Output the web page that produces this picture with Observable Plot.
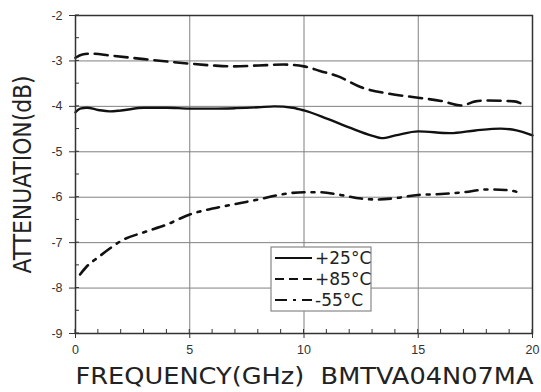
<!DOCTYPE html>
<html><head><meta charset="utf-8">
<script src="https://cdn.jsdelivr.net/npm/d3@7"></script>
<script src="https://cdn.jsdelivr.net/npm/@observablehq/plot@0.6"></script>
<style>body{margin:0;background:#fff}</style></head>
<body><div id="chart"></div>
<script>
const xTicks = [0, 5, 10, 15, 20];
const yTicks = [-9, -8, -7, -6, -5, -4, -3, -2];
const xMinor = d3.range(0, 21, 1);
const yMinor = d3.range(-9, -1.9, 0.5);

const freq25 = [0, 0.2, 0.5, 1, 1.5, 2, 3, 4, 5, 6, 7, 8, 8.7, 9.5, 10, 11, 12, 13, 13.4, 14, 15, 16.4, 17.5, 18.6, 19.3, 20];
const att25  = [-4.13, -4.05, -4.03, -4.08, -4.11, -4.09, -4.03, -4.03, -4.05, -4.05, -4.04, -4.02, -4.00, -4.03, -4.09, -4.27, -4.47, -4.65, -4.70, -4.64, -4.55, -4.59, -4.53, -4.49, -4.53, -4.64];

const freq85 = [0, 0.3, 0.7, 1.5, 3, 5, 6, 6.9, 8, 9.1, 10, 10.7, 11.5, 12.5, 13.7, 15, 16, 16.9, 17.5, 18, 19.2, 19.6];
const att85  = [-2.93, -2.86, -2.84, -2.88, -2.96, -3.06, -3.10, -3.12, -3.10, -3.08, -3.12, -3.22, -3.34, -3.58, -3.72, -3.81, -3.88, -3.98, -3.89, -3.87, -3.89, -3.96];

const freqM = [0.2, 0.5, 1, 1.5, 2, 3, 4, 5, 6, 7, 8, 9, 10, 10.7, 11.6, 12.5, 13.2, 14, 15, 16, 17, 18, 18.8, 19.4];
const attM  = [-7.70, -7.52, -7.32, -7.13, -6.96, -6.77, -6.60, -6.38, -6.25, -6.15, -6.05, -5.94, -5.89, -5.89, -5.95, -6.03, -6.05, -6.02, -5.95, -5.93, -5.89, -5.83, -5.84, -5.89];

const seriesNames = ["+25°C", "+85°C", "-55°C"];
const dashes = [null, "13,7", "12,7,3,7"];
const legendDashes = [null, "9,5", "12,6,3,6"];
const xLabel = "FREQUENCY(GHz)  BMTVA04N07MA";
const yLabel = "ATTENUATION(dB)";

const toRows = (fs, vs) => fs.map((f, i) => ({f, v: vs[i]}));
const d25 = toRows(freq25, att25), d85 = toRows(freq85, att85), dM = toRows(freqM, attM);

const chart = Plot.plot({
  width: 541, height: 392,
  marginLeft: 75, marginRight: 9, marginTop: 15, marginBottom: 59,
  style: {fontFamily: "Liberation Sans, Arial, sans-serif", background: "#fff", color: "#333"},
  x: {domain: [0, 20]},
  y: {domain: [-9, -2]},
  marks: [
    Plot.gridX(xTicks, {stroke: "#808080", strokeOpacity: 1, strokeWidth: 1}),
    Plot.gridY(yTicks, {stroke: "#808080", strokeOpacity: 1, strokeWidth: 1}),
    Plot.axisX(xTicks, {tickSize: 5, tickPadding: 7, fontSize: 12.5, label: null, tickFormat: d => String(d), stroke: "#333"}),
    Plot.axisY(yTicks, {tickSize: 6, tickPadding: 7, fontSize: 12.5, label: null, tickFormat: d => String(d), stroke: "#333"}),
    Plot.line(d25, {x: "f", y: "v", stroke: "#111", strokeWidth: 2.4, curve: "monotone-x"}),
    Plot.line(d85, {x: "f", y: "v", stroke: "#111", strokeWidth: 2.6, strokeDasharray: dashes[1], curve: "monotone-x"}),
    Plot.line(dM, {x: "f", y: "v", stroke: "#111", strokeWidth: 2.6, strokeDasharray: dashes[2], curve: "monotone-x"}),
    Plot.frame({stroke: "#333", strokeWidth: 1.5}),
    Plot.text([xLabel], {frameAnchor: "bottom-left", dy: 50, text: d => d, fontSize: 23, textAnchor: "start", fill: "#222"}),
    Plot.text([yLabel], {frameAnchor: "left", dx: -52, rotate: -90, text: d => d, fontSize: 24, textAnchor: "middle", fill: "#222"})
  ]
});
document.getElementById("chart").append(chart);

const svg = d3.select(chart);
const sx = chart.scale("x"), sy = chart.scale("y");
svg.selectAll("text").filter(function(){ return this.textContent === xLabel; })
  .attr("textLength", 458).attr("lengthAdjust", "spacingAndGlyphs").attr("font-family", "DejaVu Sans, sans-serif");
svg.selectAll("text").filter(function(){ return this.textContent === yLabel; })
  .attr("textLength", 198).attr("lengthAdjust", "spacingAndGlyphs").attr("font-family", "DejaVu Sans, sans-serif")
  .attr("transform", function(){ return this.getAttribute("transform"); });

// minor inward ticks
const g = svg.append("g").attr("stroke", "#333").attr("stroke-width", 1);
const yb = sy.apply(-9), xl = sx.apply(0);
xMinor.forEach(v => g.append("line").attr("x1", sx.apply(v)).attr("x2", sx.apply(v)).attr("y1", yb).attr("y2", yb - 4));
yMinor.forEach(v => g.append("line").attr("y1", sy.apply(v)).attr("y2", sy.apply(v)).attr("x1", xl).attr("x2", xl + 4));

// legend
const lg = svg.append("g").attr("text-anchor", "start");
const bx = 271, by = 247, bw = 100, bh = 64;
lg.append("rect").attr("x", bx).attr("y", by).attr("width", bw).attr("height", bh)
  .attr("fill", "#fff").attr("stroke", "#888").attr("stroke-width", 1.2);
seriesNames.forEach((name, i) => {
  const yy = by + 11 + i * 21;
  lg.append("line").attr("x1", bx + 4).attr("x2", bx + 41).attr("y1", yy).attr("y2", yy)
    .attr("stroke", "#111").attr("stroke-width", 2).attr("stroke-dasharray", legendDashes[i]);
  lg.append("text").attr("x", bx + 44).attr("y", yy).attr("dy", "0.36em").attr("text-anchor", "start")
    .attr("font-size", 17).attr("font-family", "DejaVu Sans, sans-serif").attr("fill", "#222").text(name);
});
</script>
</body></html>
